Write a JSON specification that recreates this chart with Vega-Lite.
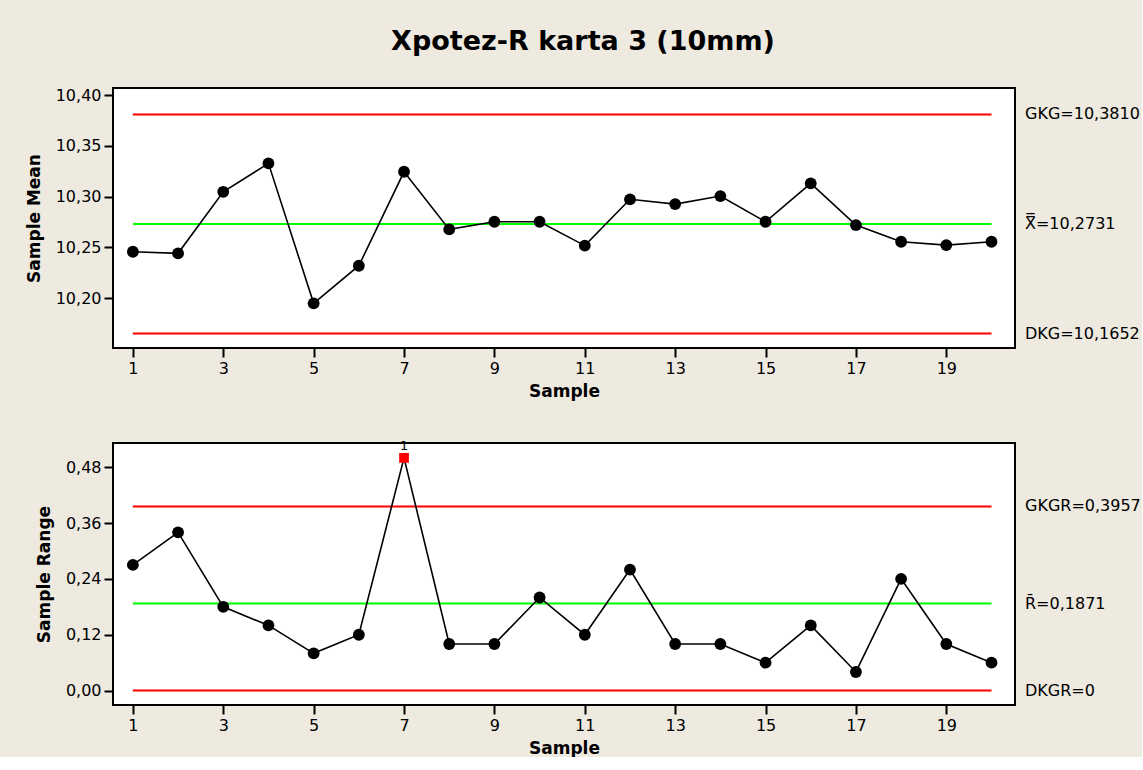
{
  "$schema": "https://vega.github.io/schema/vega-lite/v6.json",
  "background": "#EEEAE0",
  "padding": {"left": 24, "top": 28, "right": 0, "bottom": 0},
  "title": {"text": "Xpotez-R karta 3 (10mm)", "font": "DejaVu Sans", "fontSize": 27, "fontWeight": "bold", "color": "black", "anchor": "middle", "offset": 30},
  "spacing": 38,
  "datasets": {
    "samples": [
      {"sample": 1, "mean": 10.2458, "range": 0.27},
      {"sample": 2, "mean": 10.2442, "range": 0.34},
      {"sample": 3, "mean": 10.3048, "range": 0.18},
      {"sample": 4, "mean": 10.3328, "range": 0.14},
      {"sample": 5, "mean": 10.1950, "range": 0.08},
      {"sample": 6, "mean": 10.2320, "range": 0.12},
      {"sample": 7, "mean": 10.3245, "range": 0.50},
      {"sample": 8, "mean": 10.2678, "range": 0.10},
      {"sample": 9, "mean": 10.2753, "range": 0.10},
      {"sample": 10, "mean": 10.2753, "range": 0.20},
      {"sample": 11, "mean": 10.2518, "range": 0.12},
      {"sample": 12, "mean": 10.2974, "range": 0.26},
      {"sample": 13, "mean": 10.2927, "range": 0.10},
      {"sample": 14, "mean": 10.3006, "range": 0.10},
      {"sample": 15, "mean": 10.2753, "range": 0.06},
      {"sample": 16, "mean": 10.3131, "range": 0.14},
      {"sample": 17, "mean": 10.2720, "range": 0.04},
      {"sample": 18, "mean": 10.2556, "range": 0.24},
      {"sample": 19, "mean": 10.2523, "range": 0.10},
      {"sample": 20, "mean": 10.2556, "range": 0.06}
    ],
    "limitsMean": [
      {"kind": "limit", "value": 10.3810, "label": "GKG=10,3810"},
      {"kind": "center", "value": 10.2731, "label": "X̿=10,2731"},
      {"kind": "limit", "value": 10.1652, "label": "DKG=10,1652"}
    ],
    "limitsRange": [
      {"kind": "limit", "value": 0.3957, "label": "GKGR=0,3957"},
      {"kind": "center", "value": 0.1871, "label": "R̄=0,1871"},
      {"kind": "limit", "value": 0, "label": "DKGR=0"}
    ]
  },
  "vconcat": [
    {
      "width": 902,
      "height": 260,
      "layer": [
        {
          "data": {"name": "limitsMean"},
          "mark": {"type": "rule", "strokeWidth": 2},
          "encoding": {
            "x": {"datum": 1, "type": "quantitative"},
            "x2": {"datum": 20},
            "y": {"field": "value", "type": "quantitative", "axis": {"title": "Sample Mean"}},
            "color": {"field": "kind", "type": "nominal", "scale": {"domain": ["limit", "center"], "range": ["#FF0000", "#00FF00"]}, "legend": null}
          }
        },
        {
          "data": {"name": "samples"},
          "mark": {"type": "line", "color": "black", "strokeWidth": 1.6},
          "encoding": {
            "x": {"field": "sample", "type": "quantitative", "scale": {"domain": [0.56, 20.52], "nice": false, "zero": false}, "axis": {"title": "Sample", "values": [1, 3, 5, 7, 9, 11, 13, 15, 17, 19], "format": "d", "titlePadding": 7}},
            "y": {"field": "mean", "type": "quantitative", "scale": {"domain": [10.151, 10.407], "nice": false, "zero": false}, "axis": {"title": "Sample Mean", "values": [10.2, 10.25, 10.3, 10.35, 10.4], "format": ".2f", "titlePadding": 12}}
          }
        },
        {
          "data": {"name": "samples"},
          "mark": {"type": "circle", "color": "black", "opacity": 1, "size": 140},
          "encoding": {
            "x": {"field": "sample", "type": "quantitative"},
            "y": {"field": "mean", "type": "quantitative"}
          }
        },
        {
          "data": {"name": "limitsMean"},
          "mark": {"type": "text", "align": "left", "baseline": "middle", "dx": 10, "font": "DejaVu Sans", "fontSize": 16, "color": "black"},
          "encoding": {
            "x": {"value": "width"},
            "y": {"field": "value", "type": "quantitative"},
            "text": {"field": "label"}
          }
        }
      ]
    },
    {
      "width": 902,
      "height": 262,
      "layer": [
        {
          "data": {"name": "limitsRange"},
          "mark": {"type": "rule", "strokeWidth": 2},
          "encoding": {
            "x": {"datum": 1, "type": "quantitative"},
            "x2": {"datum": 20},
            "y": {"field": "value", "type": "quantitative", "axis": {"title": "Sample Range"}},
            "color": {"field": "kind", "type": "nominal", "scale": {"domain": ["limit", "center"], "range": ["#FF0000", "#00FF00"]}, "legend": null}
          }
        },
        {
          "data": {"name": "samples"},
          "mark": {"type": "line", "color": "black", "strokeWidth": 1.6},
          "encoding": {
            "x": {"field": "sample", "type": "quantitative", "scale": {"domain": [0.56, 20.52], "nice": false, "zero": false}, "axis": {"title": "Sample", "values": [1, 3, 5, 7, 9, 11, 13, 15, 17, 19], "format": "d", "titlePadding": 7}},
            "y": {"field": "range", "type": "quantitative", "scale": {"domain": [-0.031, 0.532], "nice": false, "zero": false}, "axis": {"title": "Sample Range", "values": [0, 0.12, 0.24, 0.36, 0.48], "format": ".2f", "titlePadding": 12}}
          }
        },
        {
          "data": {"name": "samples"},
          "transform": [{"filter": "datum.sample != 7"}],
          "mark": {"type": "circle", "color": "black", "opacity": 1, "size": 140},
          "encoding": {
            "x": {"field": "sample", "type": "quantitative"},
            "y": {"field": "range", "type": "quantitative"}
          }
        },
        {
          "data": {"name": "samples"},
          "transform": [{"filter": "datum.sample == 7"}],
          "mark": {"type": "square", "color": "#FF0000", "opacity": 1, "size": 95},
          "encoding": {
            "x": {"field": "sample", "type": "quantitative"},
            "y": {"field": "range", "type": "quantitative"}
          }
        },
        {
          "data": {"name": "samples"},
          "transform": [{"filter": "datum.sample == 7"}],
          "mark": {"type": "text", "baseline": "bottom", "dy": -5, "font": "DejaVu Sans", "fontSize": 13, "color": "black"},
          "encoding": {
            "x": {"field": "sample", "type": "quantitative"},
            "y": {"field": "range", "type": "quantitative"},
            "text": {"value": "1"}
          }
        },
        {
          "data": {"name": "limitsRange"},
          "mark": {"type": "text", "align": "left", "baseline": "middle", "dx": 10, "font": "DejaVu Sans", "fontSize": 16, "color": "black"},
          "encoding": {
            "x": {"value": "width"},
            "y": {"field": "value", "type": "quantitative"},
            "text": {"field": "label"}
          }
        }
      ]
    }
  ],
  "config": {
    "font": "DejaVu Sans",
    "locale": {"number": {"decimal": ",", "thousands": ".", "grouping": [3], "currency": ["", " €"]}},
    "view": {"stroke": "black", "strokeWidth": 2, "fill": "white"},
    "axis": {
      "domain": false,
      "grid": false,
      "tickColor": "black",
      "tickWidth": 2,
      "tickSize": 9,
      "labelFont": "DejaVu Sans",
      "labelFontSize": 16,
      "labelColor": "black",
      "labelPadding": 3,
      "titleFont": "DejaVu Sans",
      "titleFontSize": 17,
      "titleFontWeight": "bold",
      "titleColor": "black"
    }
  }
}
